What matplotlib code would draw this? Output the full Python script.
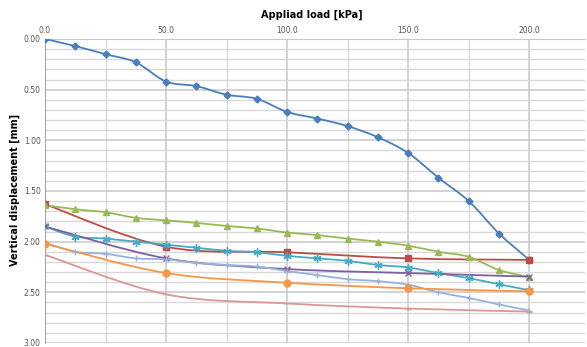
import numpy as np
import matplotlib
matplotlib.use("Agg")
import matplotlib.pyplot as plt
from matplotlib.path import Path
from matplotlib.patches import PathPatch

# load steps
load_fine = [0, 12.5, 25, 37.5, 50, 62.5, 75, 87.5, 100, 112.5, 125, 137.5,
             150, 162.5, 175, 187.5, 200]
load_coarse = [0, 50, 100, 150, 200]

# settlements [mm]
s_blue = [0.00, 0.07, 0.15, 0.23, 0.42, 0.465, 0.55, 0.59, 0.72, 0.785, 0.86,
          0.97, 1.125, 1.37, 1.60, 1.92, 2.18]
s_red = [1.63, 2.05, 2.105, 2.165, 2.18]
s_green = [1.64, 1.68, 1.71, 1.765, 1.79, 1.815, 1.845, 1.87, 1.91, 1.935,
           1.97, 2.00, 2.04, 2.10, 2.15, 2.28, 2.35]
s_cyan = [1.85, 1.95, 1.97, 2.00, 2.03, 2.06, 2.09, 2.105, 2.14, 2.165, 2.19,
          2.23, 2.255, 2.31, 2.36, 2.42, 2.48]
s_purple = [1.85, 2.165, 2.27, 2.31, 2.345]
s_lblue = [2.01, 2.10, 2.12, 2.165, 2.175, 2.21, 2.23, 2.245, 2.29, 2.33,
           2.37, 2.39, 2.425, 2.50, 2.555, 2.62, 2.68]
s_orange = [2.02, 2.31, 2.405, 2.46, 2.49]
s_pink = [2.13, 2.52, 2.61, 2.66, 2.69]

series = [
    (load_fine, s_blue, "#4A7EBB", "D", 3.5),
    (load_coarse, s_red, "#BE4B48", "s", 5),
    (load_fine, s_green, "#98B954", "^", 5),
    (load_fine, s_cyan, "#46AAC5", (6, 2, 0), 6),
    (load_coarse, s_purple, "#7D60A0", "x", 5),
    (load_fine, s_lblue, "#98B2DA", "+", 5),
    (load_coarse, s_orange, "#F79646", "o", 5),
    (load_coarse, s_pink, "#DA9795", "_", 5),
]


def smooth_path(x, y):
    # excel-like smoothed line: catmull-rom segments as cubic beziers
    pts = np.column_stack([x, y]).astype(float)
    verts = [pts[0]]
    codes = [Path.MOVETO]
    n = len(pts)
    for i in range(n - 1):
        p0 = pts[i - 1] if i > 0 else pts[i]
        p1 = pts[i]
        p2 = pts[i + 1]
        p3 = pts[i + 2] if i + 2 < n else pts[i + 1]
        c1 = p1 + (p2 - p0) / 6.0
        c2 = p2 - (p3 - p1) / 6.0
        verts += [c1, c2, p2]
        codes += [Path.CURVE4] * 3
    return Path(verts, codes)


W, H = 587, 347
fig = plt.figure(figsize=(W / 100, H / 100), dpi=100)
ax = fig.add_axes([45 / W, 1 - 343 / H, 540 / W, 304 / H])

ax.set_xlim(0, 223)
ax.set_ylim(3.0, 0.0)

ax.set_xticks([0, 50, 100, 150, 200])
ax.set_xticklabels(["0.0", "50.0", "100.0", "150.0", "200.0"])
ax.set_xticks(np.arange(0, 225, 25), minor=True)
ax.set_yticks(np.arange(0, 3.01, 0.5))
ax.set_yticklabels(["%.2f" % v for v in np.arange(0, 3.01, 0.5)])
ax.set_yticks(np.arange(0, 3.01, 0.1), minor=True)

ax.xaxis.tick_top()
ax.tick_params(axis="both", which="both", length=0, labelsize=5.5,
               labelcolor="#555555", pad=3)
ax.grid(True, which="minor", color="#D9D9D9", lw=1.0)
ax.grid(True, which="major", color="#C8C8C8", lw=1.1)
ax.set_axisbelow(True)

for side in ["right", "bottom"]:
    ax.spines[side].set_visible(False)
ax.spines["left"].set_color("#A6A6A6")
ax.spines["top"].set_color("#C8C8C8")

for x, y, c, m, ms in series:
    ax.add_patch(PathPatch(smooth_path(x, y), fill=False, edgecolor=c,
                           lw=1.3, zorder=3))
    ax.plot(x, y, ls="none", marker=m, color=c, ms=ms, mew=1.0, zorder=4)

fig.text(312 / W, 1 - 15 / H, "Appliad load [kPa]", ha="center", va="center",
         fontsize=7, fontweight="bold")
fig.text(15 / W, 1 - 190 / H, "Vertical displacement [mm]", ha="center",
         va="center", rotation=90, fontsize=7, fontweight="bold")

fig.savefig("out.png", dpi=100)
